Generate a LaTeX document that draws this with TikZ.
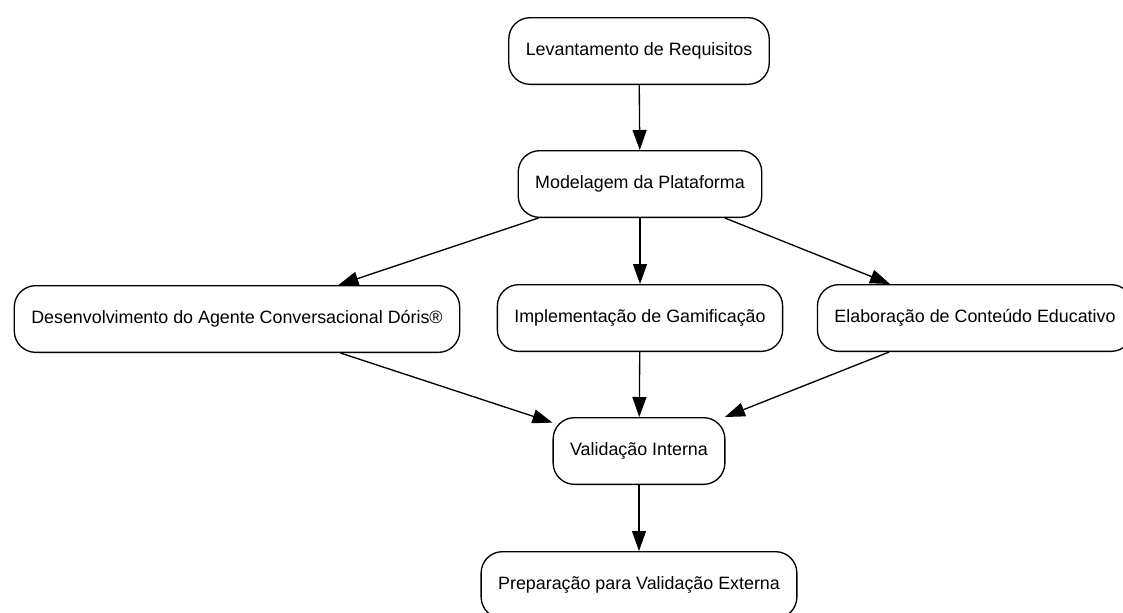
\documentclass[tikz,border=0pt]{standalone}
\usepackage{fontspec}
\setmainfont{Liberation Sans}
\usetikzlibrary{arrows.meta}

\begin{document}
\begin{tikzpicture}[x=0.75pt,y=-0.75pt,>={Triangle[length=15pt,width=10.5pt]},
    etapa/.style={draw,line width=1pt,rounded corners=16pt,minimum height=50pt,inner xsep=12.75pt,font=\fontsize{13.4}{16}\selectfont}]
    \useasboundingbox (0,0) rectangle (1123,612);
    \node[etapa] (req) at (639,51) {Levantamento de Requisitos};
    \node[etapa] (mod) at (640,184) {Modelagem da Plataforma};
    \node[etapa] (dev) at (237,319) {Desenvolvimento do Agente Conversacional Dóris®};
    \node[etapa] (gam) at (640,318) {Implementação de Gamificação};
    \node[etapa] (edu) at (975,318) {Elaboração de Conteúdo Educativo};
    \node[etapa] (vin) at (639,451) {Validação Interna};
    \node[etapa] (vex) at (639,585) {Preparação para Validação Externa};
    \draw[->,line width=1pt] (req)--(mod);
    \foreach \n in {dev,gam,edu}{
    \draw[->,line width=1pt] (mod)--(\n);
    \draw[->,line width=1pt] (\n)--(vin);
    }
    \draw[->,line width=1pt] (vin)--(vex);
\end{tikzpicture}
\end{document}
